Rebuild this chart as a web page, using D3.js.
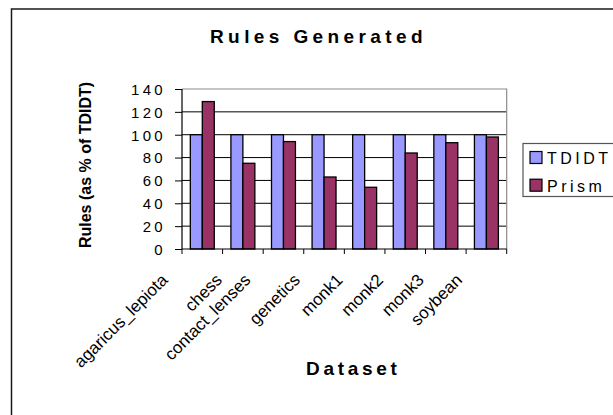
<!DOCTYPE html>
<html>
<head>
<meta charset="utf-8">
<script src="https://cdn.jsdelivr.net/npm/d3@7"></script>
<style>
  body { margin: 0; background: #fff; }
  svg { display: block; font-family: "Liberation Sans", Arial, sans-serif; }
</style>
</head>
<body>
<svg id="chart" width="613" height="415"></svg>
<script>
var categories = ["agaricus_lepiota", "chess", "contact_lenses", "genetics", "monk1", "monk2", "monk3", "soybean"];
var series_names = ["TDIDT", "Prism"];
var tdidt_values = [100, 100, 100, 100, 100, 100, 100, 100];
var prism_values = [129, 75, 94, 63, 54, 84, 93, 98];
var y_ticks = [0, 20, 40, 60, 80, 100, 120, 140];
var series_colors = ["#9999ff", "#993366"];

var svg = d3.select("#chart");
var plot_left = 182, plot_right = 506.7, plot_top = 89, plot_bottom = 249;

// outer chart border, runs off the right and bottom edge like the source
svg.append("rect")
    .attr("x", 11.5).attr("y", 9)
    .attr("width", 700).attr("height", 500)
    .attr("fill", "none")
    .attr("stroke", "#1a1a1a")
    .attr("stroke-width", 1.5);

var x = d3.scaleBand()
    .domain(categories)
    .range([plot_left, plot_right])
    .paddingInner(0.41)
    .paddingOuter(0.205);

var x_inner = d3.scaleBand()
    .domain(series_names)
    .range([0, x.bandwidth()]);

var y = d3.scaleLinear()
    .domain([0, 140])
    .range([plot_bottom, plot_top]);

// gridlines
svg.append("g")
    .selectAll("line")
    .data(y_ticks.filter(function(d) { return d > 0 && d < 140; }))
    .enter().append("line")
      .attr("x1", plot_left).attr("x2", plot_right)
      .attr("y1", d => y(d)).attr("y2", d => y(d))
      .attr("stroke", "#000")
      .attr("stroke-width", 1);

// plot frame top/right in grey
svg.append("path")
    .attr("d", "M" + plot_left + "," + y(140) + "H" + plot_right + "V" + plot_bottom)
    .attr("fill", "none")
    .attr("stroke", "#8c8c8c")
    .attr("stroke-width", 1.2);

// bars
var rows = categories.map(function(c, i) {
    return { cat: c, values: [tdidt_values[i], prism_values[i]] };
});

var groups = svg.append("g")
    .selectAll("g")
    .data(rows)
    .enter().append("g")
      .attr("transform", d => "translate(" + x(d.cat) + ",0)");

groups.selectAll("rect")
    .data(d => d.values.map(function(v, j) { return { name: series_names[j], value: v, k: j }; }))
    .enter().append("rect")
      .attr("x", d => x_inner(d.name))
      .attr("y", d => y(d.value))
      .attr("width", x_inner.bandwidth())
      .attr("height", d => plot_bottom - y(d.value))
      .attr("fill", d => series_colors[d.k])
      .attr("stroke", "#000")
      .attr("stroke-width", 1.3);

// y axis
var y_axis = svg.append("g")
    .attr("transform", "translate(" + plot_left + ",0)")
    .call(d3.axisLeft(y).tickValues(y_ticks).tickSize(7).tickPadding(0).tickFormat(d3.format("d")));
y_axis.select(".domain").attr("stroke", "#000").attr("stroke-width", 1.2)
    .attr("d", "M0," + plot_top + "V" + plot_bottom);
y_axis.selectAll(".tick line").attr("stroke", "#000");
y_axis.selectAll(".tick text")
    .attr("x", -16)
    .attr("dy", "0.36em")
    .attr("fill", "#000")
    .style("font-size", "15px")
    .style("letter-spacing", "3.3px")
    .style("font-family", "Liberation Sans, Arial, sans-serif");

// x axis: ticks at category boundaries
var x_axis_g = svg.append("g");
x_axis_g.append("line")
    .attr("x1", plot_left).attr("x2", plot_right)
    .attr("y1", plot_bottom).attr("y2", plot_bottom)
    .attr("stroke", "#000").attr("stroke-width", 1.2);
var step = x.step();
var boundaries = d3.range(categories.length + 1).map(function(i) { return plot_left + i * step; });
x_axis_g.selectAll("line.tick")
    .data(boundaries)
    .enter().append("line")
      .attr("class", "tick")
      .attr("x1", d => d).attr("x2", d => d)
      .attr("y1", plot_bottom).attr("y2", plot_bottom + 5)
      .attr("stroke", "#000");

// category labels, rotated like excel does it
x_axis_g.selectAll("text.cat")
    .data(categories)
    .enter().append("text")
      .attr("class", "cat")
      .attr("text-anchor", "end")
      .style("font-size", "17px")
      .text(d => d)
      .each(function(d) {
          var w = this.getComputedTextLength();
          var cx = x(d) + x.bandwidth() / 2 - 12 - 0.175 * w;
          d3.select(this).attr("transform", "translate(" + cx + "," + (plot_bottom + 32) + ") rotate(-45)");
      });

// titles
svg.append("text")
    .attr("x", 210).attr("y", 43)
    .style("font-size", "19px").style("font-weight", "bold")
    .style("letter-spacing", "4.4px")
    .text("Rules Generated");

svg.append("text")
    .attr("x", 306).attr("y", 375)
    .style("font-size", "19px").style("font-weight", "bold")
    .style("letter-spacing", "3.7px")
    .text("Dataset");

svg.append("text")
    .attr("transform", "translate(91,165) rotate(-90)")
    .attr("text-anchor", "middle")
    .style("font-size", "16px").style("font-weight", "bold")
    .text("Rules (as % of TDIDT)");

// legend
var legend = svg.append("g");
legend.append("rect")
    .attr("x", 523).attr("y", 143.5)
    .attr("width", 120).attr("height", 53)
    .attr("fill", "#fff")
    .attr("stroke", "#555").attr("stroke-width", 1.2);
var items = legend.selectAll("g.item")
    .data(series_names)
    .enter().append("g")
      .attr("class", "item")
      .attr("transform", (d, i) => "translate(530," + (151.5 + i * 27.7) + ")");
items.append("rect")
    .attr("width", 12).attr("height", 12)
    .attr("fill", (d, i) => series_colors[i])
    .attr("stroke", "#000").attr("stroke-width", 1.2);
items.append("text")
    .attr("x", 17).attr("y", 12.5)
    .style("font-size", "16px")
    .style("letter-spacing", "3.5px")
    .text(d => d);
</script>
</body>
</html>
